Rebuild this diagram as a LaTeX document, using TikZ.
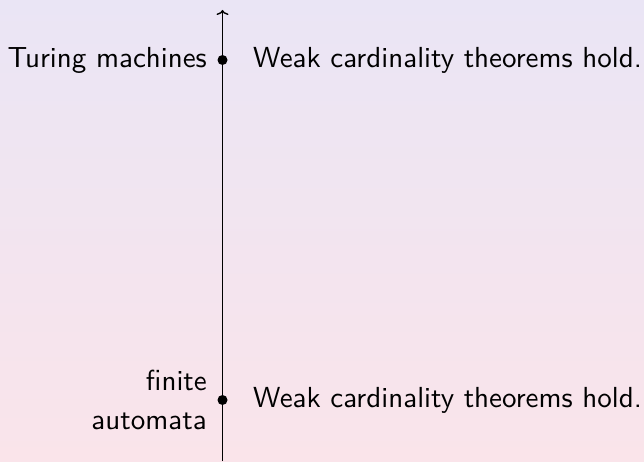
\documentclass[tikz,border=0pt]{standalone}
\usepackage{fontspec}
\setsansfont{lmsans10-regular.otf}
\usetikzlibrary{arrows.meta}
\definecolor{bgtop}{RGB}{234,229,245}
\definecolor{bgbot}{RGB}{250,228,234}
\begin{document}
\begin{tikzpicture}[x=1pt,y=1pt,
  lbl/.style={font=\sffamily\fontsize{29}{38.5}\selectfont, inner sep=0pt},
  dotnode/.style={circle, fill=black, inner sep=0pt, minimum size=10pt}]
\shade[top color=bgtop, bottom color=bgbot] (0,0) rectangle (644,461);
\useasboundingbox (0,0) rectangle (644,461);
\coordinate (bot) at (222.5,0);
\coordinate (top) at (222.5,451);
\draw[line width=1.4pt, -{To[length=5pt,width=12pt]}] (bot) -- (top);
\node[dotnode] (d1) at (222.5,401) {};
\node[dotnode] (d2) at (222.5,61) {};
\node[lbl, anchor=east] (l1) at (207,401) {Turing machines};
\node[lbl, anchor=west] (r1) at (253,401) {Weak cardinality theorems hold.};
\node[lbl, anchor=east, align=right] (l2) at (207,61) {finite\\automata};
\node[lbl, anchor=west] (r2) at (253,61) {Weak cardinality theorems hold.};
\end{tikzpicture}
\end{document}
